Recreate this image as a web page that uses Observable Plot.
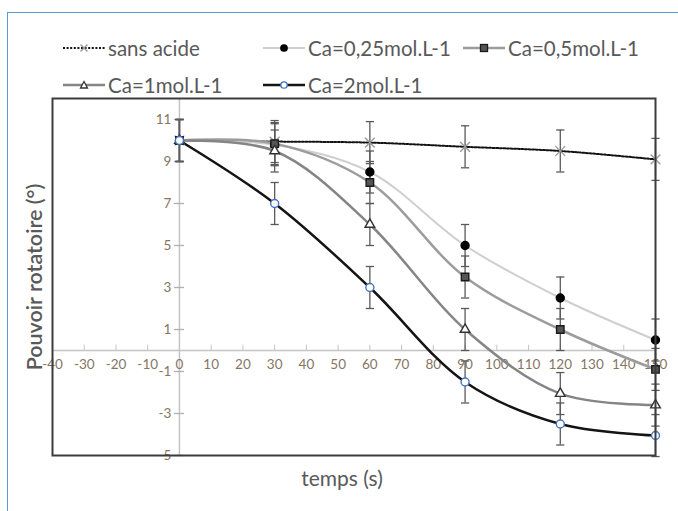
<!DOCTYPE html>
<html><head><meta charset="utf-8">
<script src="https://cdn.jsdelivr.net/npm/d3@7"></script>
<script src="https://cdn.jsdelivr.net/npm/@observablehq/plot@0.6"></script>
<style>
body{margin:0;background:#fff;font-family:Lato,"Open Sans",sans-serif;}
#wrap{position:relative;width:678px;height:511px;overflow:hidden;background:#fff;}
#border{position:absolute;left:7px;top:12px;width:720px;height:540px;border:1.5px solid #5b9bd5;}
#legend{position:absolute;left:0;top:0;width:678px;height:97px;}
.item{position:absolute;display:flex;align-items:center;font-size:20.5px;color:#595959;white-space:nowrap;height:24px;}
.item svg{margin-right:3px;}
#chart{position:absolute;left:0;top:97px;}
</style></head><body>
<div id="wrap"><div id="border"></div><div id="legend"></div><div id="chart"></div></div>
<script>
// ---- data ----
const times = [0, 30, 60, 90, 120, 150];
const seriesNames = ["sans acide", "Ca=0,25mol.L-1", "Ca=0,5mol.L-1", "Ca=1mol.L-1", "Ca=2mol.L-1"];
const sansAcide = [10, 9.95, 9.9, 9.7, 9.5, 9.1];
const ca025 = [10, 9.8, 8.5, 5.0, 2.5, 0.5];
const ca05 = [10, 9.85, 8.0, 3.5, 1.0, -0.9];
const ca1 = [10, 9.5, 6.0, 1.0, -2.05, -2.6];
const ca2 = [10, 7.0, 3.0, -1.5, -3.5, -4.05];
const errorHalf = 1;
const xTickLabels = [-40, -30, -20, -10, 0, 10, 20, 30, 40, 50, 60, 70, 80, 90, 100, 110, 120, 130, 140, 150];
const yTickLabels = [-5, -3, -1, 1, 3, 5, 7, 9, 11];
const xTitle = "temps (s)";
const yTitle = "Pouvoir rotatoire (°)";

// ---- styles ----
const styles = [
  {line: "#111", width: 2, dash: "2,1.6", symbol: "times", fill: "none", stroke: "#9a9a9a", r: 4.5},
  {line: "#cfcfcf", width: 2, dash: null, symbol: "circle", fill: "#000", stroke: "#000", r: 4},
  {line: "#9c9c9c", width: 2.5, dash: null, symbol: "square", fill: "#555", stroke: "#1a1a1a", r: 4.2},
  {line: "#858585", width: 2.5, dash: null, symbol: "triangle", fill: "#fff", stroke: "#333", r: 3.6},
  {line: "#141414", width: 2.5, dash: null, symbol: "circle", fill: "#fff", stroke: "#4472c4", r: 4}
];
const valuesList = [sansAcide, ca025, ca05, ca1, ca2];
const series = seriesNames.map((name, k) => ({
  name, style: styles[k],
  data: times.map((t, i) => ({t, v: valuesList[k][i]}))
}));

const errMarks = [];
const lineMarks = [];
const dotMarks = [];
series.forEach(s => {
  const st = s.style;
  lineMarks.push(Plot.line(s.data, {x: "t", y: "v", curve: "catmull-rom", stroke: st.line, strokeWidth: st.width, strokeDasharray: st.dash || undefined}));
  errMarks.push(Plot.ruleX(s.data, {x: "t", y1: d => d.v - errorHalf, y2: d => d.v + errorHalf, stroke: "#5a5a5a", strokeWidth: 1.3}));
  errMarks.push(Plot.link(s.data, {x1: d => d.t - 1.3, x2: d => d.t + 1.3, y1: d => d.v + errorHalf, y2: d => d.v + errorHalf, stroke: "#5a5a5a", strokeWidth: 1.3}));
  errMarks.push(Plot.link(s.data, {x1: d => d.t - 1.3, x2: d => d.t + 1.3, y1: d => d.v - errorHalf, y2: d => d.v - errorHalf, stroke: "#5a5a5a", strokeWidth: 1.3}));
  dotMarks.push(Plot.dot(s.data, {x: "t", y: "v", symbol: st.symbol, r: st.r, fill: st.fill, stroke: st.stroke, strokeWidth: 1.4}));
});

const labelColor = "#857662";
const chart = Plot.plot({
  width: 678, height: 414,
  marginTop: 1, marginLeft: 52, marginRight: 23, marginBottom: 56,
  x: {domain: [-40, 150], axis: null},
  y: {domain: [-5, 12], axis: null},
  style: {fontFamily: "Lato, 'Open Sans', sans-serif", background: "transparent", overflow: "visible"},
  marks: [
    Plot.ruleY([0], {stroke: "#c4c4c4", strokeWidth: 1.5}),
    Plot.ruleX([0], {stroke: "#c4c4c4", strokeWidth: 1.5}),
    Plot.ruleX(xTickLabels, {x: d => d, y1: 0, y2: 0.25, stroke: "#c4c4c4"}),
    Plot.ruleY(yTickLabels, {y: d => d, x1: -1.6, x2: 1.6, stroke: "#b0b0b0", strokeWidth: 1.3}),
    Plot.text(xTickLabels, {x: d => d, y: 0, dy: 14, text: d => String(d), fill: labelColor, fontSize: 13.5}),
    Plot.text(yTickLabels, {x: 0, y: d => d, dx: -8, textAnchor: "end", text: d => String(d), fill: labelColor, fontSize: 13.5}),
    ...errMarks,
    ...lineMarks,
    ...dotMarks,
    Plot.frame({stroke: "#3c3c3c", strokeWidth: 2}),
    Plot.text([yTitle], {frameAnchor: "left", textAnchor: "middle", rotate: -90, dx: -17, text: d => d, fill: "#595959", fontSize: 21.5, fontWeight: 600}),
    Plot.text([xTitle], {frameAnchor: "bottom", dy: 30, dx: -12, text: d => d, fill: "#595959", fontSize: 21})
  ]
});
document.getElementById("chart").appendChild(chart);

// ---- legend ----
const legendPos = [[63, 36], [263, 36], [463, 36], [63, 73], [263, 73]];
const symbolSvg = st => {
  const dash = st.dash ? `stroke-dasharray="${st.dash}"` : "";
  let sym = "";
  if (st.symbol === "times") sym = `<path d="M17.5,3.5L24.5,10.5M17.5,10.5L24.5,3.5" stroke="${st.stroke}" stroke-width="1.4"/>`;
  else if (st.symbol === "circle") sym = `<circle cx="21" cy="7" r="3.2" fill="${st.fill}" stroke="${st.stroke}" stroke-width="1.3"/>`;
  else if (st.symbol === "square") sym = `<rect x="17.5" y="3.5" width="7" height="7" fill="${st.fill}" stroke="${st.stroke}" stroke-width="1.3"/>`;
  else if (st.symbol === "triangle") sym = `<path d="M21,3.5L24.5,10L17.5,10Z" fill="${st.fill}" stroke="${st.stroke}" stroke-width="1.3"/>`;
  return `<svg width="42" height="14"><line x1="0" x2="42" y1="7" y2="7" stroke="${st.line}" stroke-width="${st.width}" ${dash}/>${sym}</svg>`;
};
const legend = document.getElementById("legend");
series.forEach((s, k) => {
  const div = document.createElement("div");
  div.className = "item";
  div.style.left = legendPos[k][0] + "px";
  div.style.top = legendPos[k][1] + "px";
  div.innerHTML = symbolSvg(s.style) + `<span>${s.name}</span>`;
  legend.appendChild(div);
});
</script>
</body></html>
